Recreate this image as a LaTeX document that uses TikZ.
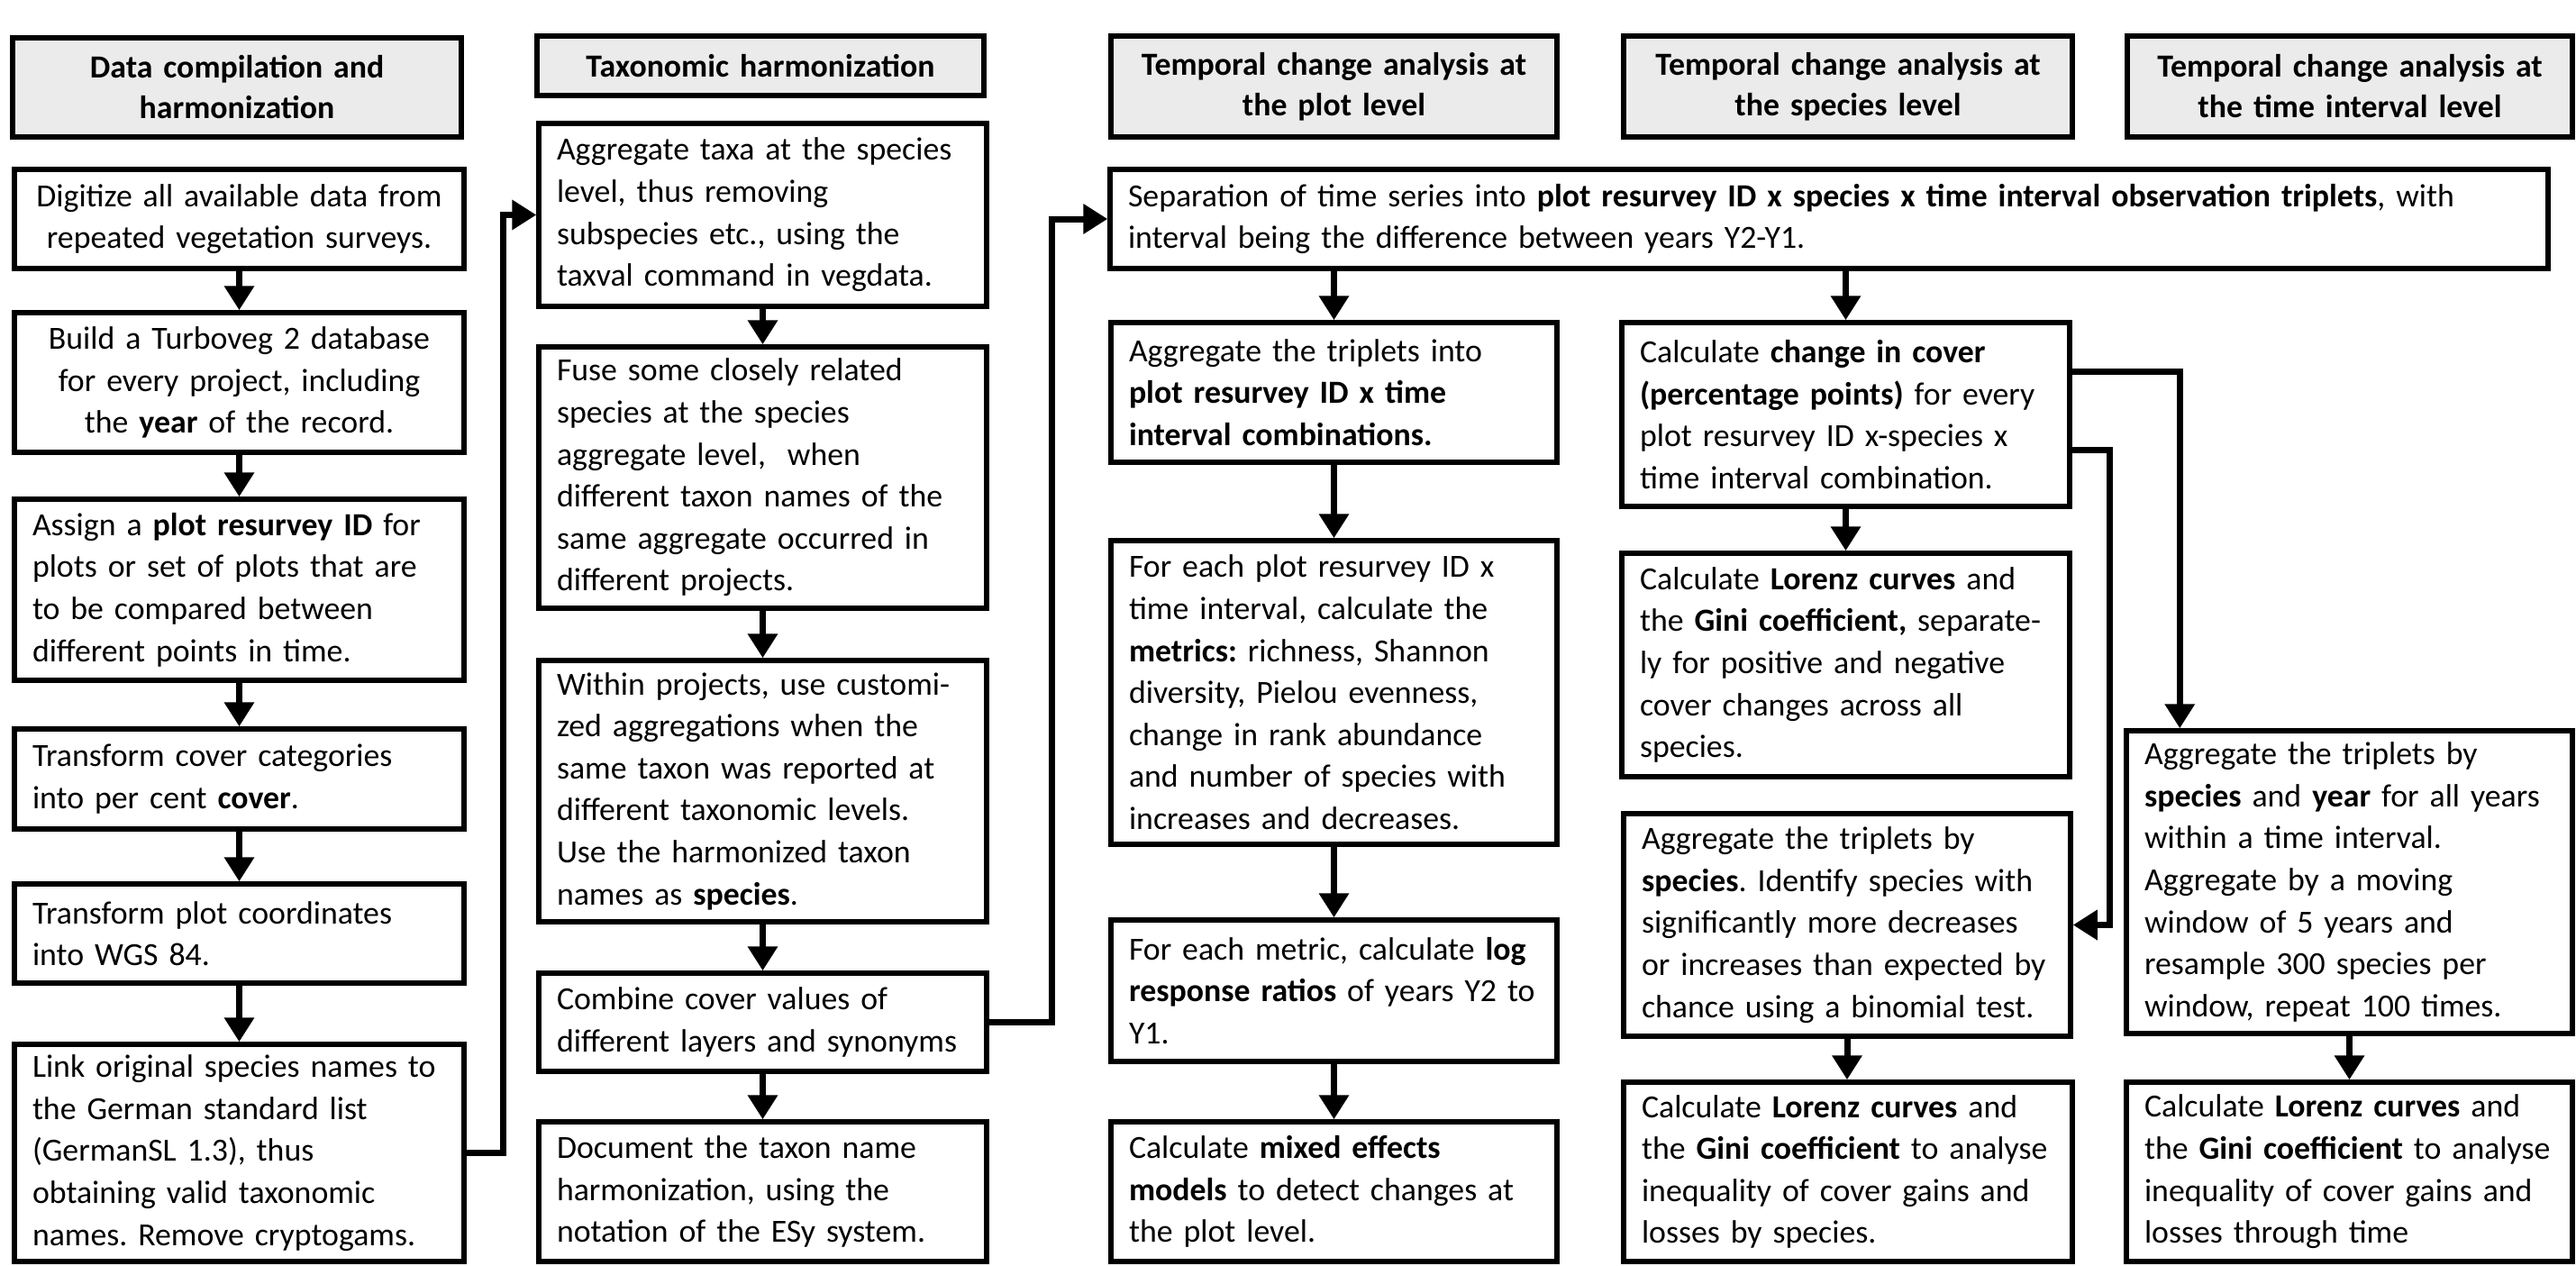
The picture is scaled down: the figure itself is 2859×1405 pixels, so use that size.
\documentclass[tikz,border=0pt]{standalone}
\usepackage{fontspec}
\setmainfont{Carlito}
\usetikzlibrary{arrows.meta,calc}
\frenchspacing
\tikzset{
  box/.style={draw, line width=5.5pt, rectangle, inner xsep=20pt, inner ysep=0pt,
    align=left, fill=white, font=\fontsize{35.8}{46.6}\selectfont,
    execute at begin node={\frenchspacing\hyphenpenalty=10000\relax\exhyphenpenalty=10000\relax}},
  hdr/.style={fill=black!8, align=center, font=\fontsize{35.8}{45}\selectfont\bfseries},
  ctr/.style={align=center},
  conn/.style={line width=7pt, -{Triangle[width=32pt,length=27pt]}}
}
\newcommand\mkbox[7]{%
  \pgfmathsetmacro\bxcx{(#2+#4)/2}%
  \pgfmathsetmacro\bxcy{(#3+#5)/2}%
  \pgfmathsetmacro\bxw{#4-#2}%
  \pgfmathsetmacro\bxh{#5-#3}%
  \pgfmathsetmacro\bxtw{#4-#2-40}%
  \node[box,#6,minimum width=\bxw pt,minimum height=\bxh pt,text width=\bxtw pt] (#1) at (\bxcx,\bxcy) {#7};}
\begin{document}
\begin{tikzpicture}[x=1pt,y=-1pt]
\useasboundingbox (0,0) rectangle (2859,1405);
% headers
\mkbox{H1}{14}{42}{512}{152}{hdr}{Data compilation and\\harmonization}
\mkbox{H2}{596}{40}{1092}{106}{hdr}{Taxonomic harmonization}
\mkbox{H3}{1233}{40}{1728}{152}{hdr}{Temporal change analysis at\\the plot level}
\mkbox{H4}{1802}{40}{2300}{152}{hdr}{Temporal change analysis at\\the species level}
\mkbox{H5}{2361}{40}{2855}{152}{hdr}{Temporal change analysis at\\the time interval level}
% column 1
\mkbox{B1}{16}{188}{515}{298}{ctr}{Digitize all available data from\\repeated vegetation surveys.}
\mkbox{B2}{16}{347}{515}{502}{ctr}{Build a Turboveg 2 database\\for every project, including\\the \textbf{year} of the record.}
\mkbox{B3}{16}{554}{515}{755}{}{Assign a \textbf{plot resurvey ID} for\\plots or set of plots that are\\to be compared between\\different points in time.}
\mkbox{B4}{16}{809}{515}{920}{}{Transform cover categories\\into per cent \textbf{cover}.}
\mkbox{B5}{16}{981}{515}{1091}{}{Transform plot coordinates\\into WGS 84.}
\mkbox{B6}{16}{1159}{515}{1400}{}{Link original species names to\\the German standard list\\(GermanSL 1.3), thus\\obtaining valid taxonomic\\names. Remove cryptogams.}
% column 2
\mkbox{C1}{598}{137}{1095}{340}{}{Aggregate taxa at the species\\level, thus removing\\subspecies etc., using the\\taxval command in vegdata.}
\mkbox{C2}{598}{385}{1095}{675}{}{Fuse some closely related\\species at the species\\aggregate level,\ \ when\\different taxon names of the\\same aggregate occurred in\\different projects.}
\mkbox{C3}{598}{733}{1095}{1023}{}{Within projects, use customi-\\zed aggregations when the\\same taxon was reported at\\different taxonomic levels.\\Use the harmonized taxon\\names as \textbf{species}.}
\mkbox{C4}{598}{1080}{1095}{1189}{}{Combine cover values of\\different layers and synonyms}
\mkbox{C5}{598}{1245}{1095}{1400}{}{Document the taxon name\\harmonization, using the\\notation of the ESy system.}
% spanning box
\mkbox{S}{1232}{188}{2828}{298}{}{Separation of time series into \textbf{plot resurvey ID x species x time interval observation triplets}, with\\interval being the difference between years Y2-Y1.}
% column 3
\mkbox{D1}{1233}{358}{1728}{513}{}{Aggregate the triplets into\\\textbf{plot resurvey ID x time}\\\textbf{interval combinations.}}
\mkbox{D2}{1233}{600}{1728}{937}{}{For each plot resurvey ID x\\time interval, calculate the\\\textbf{metrics:} richness, Shannon\\diversity, Pielou evenness,\\change in rank abundance\\and number of species with\\increases and decreases.}
\mkbox{D3}{1233}{1021}{1728}{1178}{}{For each metric, calculate \textbf{log}\\\textbf{response ratios} of years Y2 to\\Y1.}
\mkbox{D4}{1233}{1245}{1728}{1400}{}{Calculate \textbf{mixed effects}\\\textbf{models} to detect changes at\\the plot level.}
% column 4
\mkbox{E1}{1800}{358}{2297}{562}{}{Calculate \textbf{change in cover}\\\textbf{(percentage points)} for every\\plot resurvey ID x-species x\\time interval combination.}
\mkbox{E2}{1800}{614}{2297}{862}{}{Calculate \textbf{Lorenz curves} and\\the \textbf{Gini coefficient,} separate-\\ly for positive and negative\\cover changes across all\\species.}
\mkbox{E3}{1802}{903}{2298}{1150}{}{Aggregate the triplets by\\\textbf{species}. Identify species with\\significantly more decreases\\or increases than expected by\\chance using a binomial test.}
\mkbox{E4}{1802}{1201}{2300}{1400}{}{Calculate \textbf{Lorenz curves} and\\the \textbf{Gini coefficient} to analyse\\inequality of cover gains and\\losses by species.}
% column 5
\mkbox{F1}{2360}{811}{2855}{1147}{}{Aggregate the triplets by\\\textbf{species} and \textbf{year} for all years\\within a time interval.\\Aggregate by a moving\\window of 5 years and\\resample 300 species per\\window, repeat 100 times.}
\mkbox{F2}{2360}{1201}{2855}{1400}{}{Calculate \textbf{Lorenz curves} and\\the \textbf{Gini coefficient} to analyse\\inequality of cover gains and\\losses through time}
% connectors
\draw[conn] (B1.south) -- (B2.north);
\draw[conn] (B2.south) -- (B3.north);
\draw[conn] (B3.south) -- (B4.north);
\draw[conn] (B4.south) -- (B5.north);
\draw[conn] (B5.south) -- (B6.north);
\draw[conn] (B6.east) -- ++(41,0) |- (C1.west);
\draw[conn] (C1.south) -- (C2.north);
\draw[conn] (C2.south) -- (C3.north);
\draw[conn] (C3.south) -- (C4.north);
\draw[conn] (C4.south) -- (C5.north);
\draw[conn] (C4.east) -- ++(70,0) |- (S.west);
\draw[conn] (S.south -| D1.north) -- (D1.north);
\draw[conn] (D1.south) -- (D2.north);
\draw[conn] (D2.south) -- (D3.north);
\draw[conn] (D3.south) -- (D4.north);
\draw[conn] (S.south -| E1.north) -- (E1.north);
\draw[conn] (E1.south) -- (E2.north);
\draw[conn] ($(E1.north east)+(0,57)$) -| ($(F1.north west)+(62,0)$);
\draw[conn] ($(E1.north east)+(0,144)$) -- ++(42,0) |- (E3.east);
\draw[conn] (E3.south) -- (E3.south |- E4.north);
\draw[conn] (F1.south) -- (F2.north);
\end{tikzpicture}
\end{document}
